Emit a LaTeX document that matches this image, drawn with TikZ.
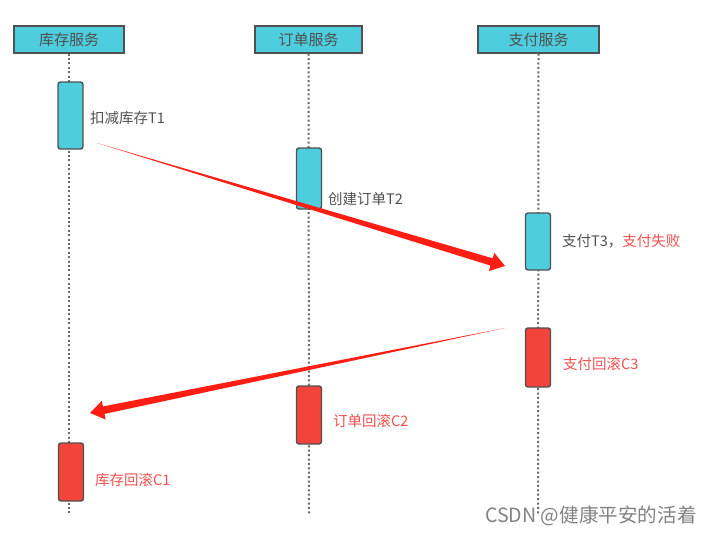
\documentclass[tikz,border=0pt]{standalone}
\usepackage{fontspec}
\setmainfont{Noto Sans CJK SC}
\usetikzlibrary{calc}
\definecolor{boxcyan}{RGB}{77,205,222}
\definecolor{boxred}{RGB}{242,68,58}
\definecolor{edgegray}{RGB}{80,80,80}
\definecolor{txtgray}{RGB}{80,80,80}
\definecolor{txtred}{RGB}{242,80,80}
\definecolor{arrred}{RGB}{255,30,20}
\definecolor{lifegray}{RGB}{105,105,105}
\definecolor{wmgray}{RGB}{130,130,130}
\tikzset{
  header/.style={draw=edgegray, line width=1.4pt, fill=boxcyan, minimum width=#1, minimum height=27pt, inner sep=0pt, font=\fontsize{15pt}{15pt}\selectfont, text=txtgray},
  actbox/.style={draw=edgegray, line width=1.4pt, rounded corners=2.5pt, minimum width=25pt, minimum height=#1, inner sep=0pt},
  lifeline/.style={lifegray, line width=2pt, dash pattern=on 2pt off 2.4pt},
  lbl/.style={anchor=west, inner sep=0pt, font=\fontsize{14.5pt}{14.5pt}\selectfont, text=txtgray},
  rlbl/.style={lbl, text=txtred},
}
\newcommand{\wedgearrow}[2]{%
  \fill[arrred] (#1)
    -- ($($(#2)!14pt!(#1)$)!3.8pt!90:(#2)$)
    -- ($($(#2)!14pt!(#1)$)!9.5pt!90:(#2)$)
    -- (#2)
    -- ($($(#2)!14pt!(#1)$)!9.5pt!-90:(#2)$)
    -- ($($(#2)!14pt!(#1)$)!3.8pt!-90:(#2)$)
    -- cycle;}
\begin{document}
\begin{tikzpicture}[x=1pt,y=-1pt]
\useasboundingbox (0,0) rectangle (712,535);
% lifelines
\coordinate (l1b) at (69,515);
\coordinate (l2b) at (309,515);
\coordinate (l3b) at (538,515);
\node[header=110pt] (h1) at (69,39.5) {库存服务};
\node[header=107pt] (h2) at (308.5,39.5) {订单服务};
\node[header=121pt] (h3) at (538.5,39.5) {支付服务};
\draw[lifeline] (h1.south) -- (l1b);
\draw[lifeline] (h2.south) -- (l2b);
\draw[lifeline] (h3.south) -- (l3b);
% activation boxes
\node[actbox=67pt, fill=boxcyan] (t1) at (70.5,115.5) {};
\node[actbox=61pt, fill=boxcyan] (t2) at (309,178.5) {};
\node[actbox=57pt, fill=boxcyan] (t3) at (538,241.5) {};
\node[actbox=59pt, fill=boxred] (c3) at (538,357.5) {};
\node[actbox=58pt, fill=boxred] (c2) at (309,415) {};
\node[actbox=58pt, fill=boxred] (c1) at (71,472) {};
% labels
\node[lbl] (lt1) at (90,118) {扣减库存T1};
\node[lbl] (lt2) at (328,199) {创建订单T2};
\node[lbl] (lt3) at (562,241) {支付T3，\textcolor{txtred}{支付失败}};
\node[rlbl] (lc3) at (563,364) {支付回滚C3};
\node[rlbl] (lc2) at (333,421) {订单回滚C2};
\node[rlbl] (lc1) at (95,480) {库存回滚C1};
% arrows
\coordinate (a1s) at (97,143);
\coordinate (a1t) at (505,266);
\coordinate (a2s) at (505,328);
\coordinate (a2t) at (90,413);
\wedgearrow{a1s}{a1t}
\wedgearrow{a2s}{a2t}
% watermark
\node[anchor=west, inner sep=0pt, font=\fontsize{19.6pt}{19.6pt}\selectfont, text=wmgray] (wm) at (485,516) {CSDN @健康平安的活着};
\end{tikzpicture}
\end{document}
